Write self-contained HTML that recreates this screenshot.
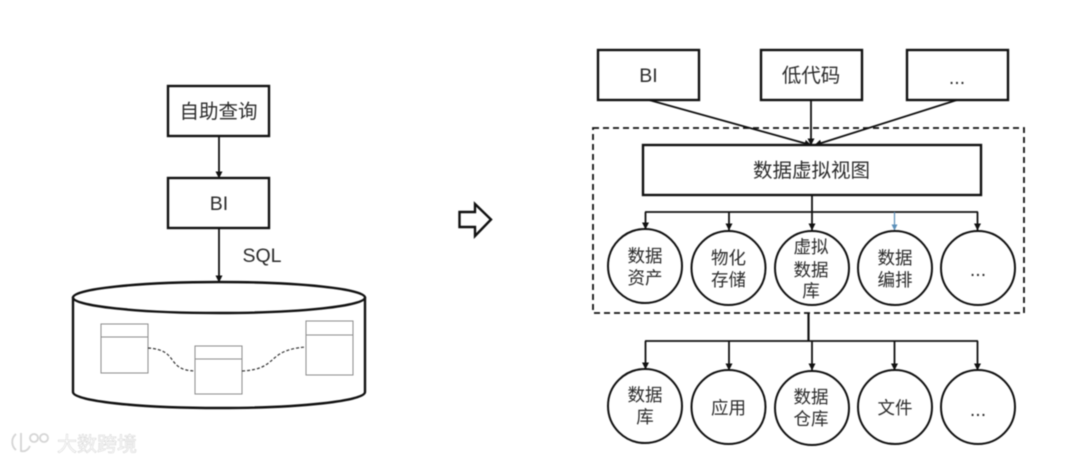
<!DOCTYPE html>
<html>
<head>
<meta charset="utf-8">
<style>
html,body{margin:0;padding:0;background:#fff;width:1080px;height:464px;overflow:hidden}
svg{display:block;filter:blur(.5px)}
text{font-family:"Liberation Sans","Noto Sans CJK SC",sans-serif;font-size:19.5px;fill:#2b2b2b;text-anchor:middle}
.s{font-size:17.5px}
.b{fill:#fff;stroke:#111;stroke-width:2.4}
.l{fill:none;stroke:#111;stroke-width:1.8}
.t{fill:#fff;stroke:#8c8c8c;stroke-width:1}
.d{fill:none;stroke:#333;stroke-width:1.2;stroke-dasharray:3 2}
.c{fill:#fff;stroke:#111;stroke-width:2}
.w{font-size:20px;fill:#fff;stroke:#d2d2d2;stroke-width:.5;text-anchor:start}
</style>
</head>
<body>
<svg width="1080" height="464" viewBox="0 0 1080 464" xmlns="http://www.w3.org/2000/svg">
<defs>
<marker id="a" markerWidth="7" markerHeight="7" refX="6.500" refY="3.500" orient="auto" markerUnits="userSpaceOnUse"><path d="M0,0L7,3.500L0,7Z" fill="#111"/></marker>
<marker id="ab" markerWidth="6" markerHeight="6" refX="5.500" refY="3" orient="auto" markerUnits="userSpaceOnUse"><path d="M0,0L6,3L0,6Z" fill="#5b8fb9"/></marker>
</defs>

<!-- left -->
<rect class="b" x="168" y="86" width="101" height="50"/>
<text x="218.500" y="118">自助查询</text>
<line class="l" x1="219" y1="136" x2="219" y2="178" marker-end="url(#a)"/>
<rect class="b" x="168" y="178" width="101" height="50"/>
<text x="219" y="210">BI</text>
<line class="l" x1="219" y1="228" x2="219" y2="282" marker-end="url(#a)"/>
<text x="262" y="262">SQL</text>

<path d="M73,297V392C73,401 138,408 219,408C300,408 365,401 365,392V297" fill="#fff" stroke="#111" stroke-width="2.400"/>
<ellipse cx="219" cy="297.500" rx="146" ry="15.500" fill="#fff" stroke="#111" stroke-width="2.400"/>

<rect class="t" x="101" y="324" width="47" height="49"/><line class="t" x1="101" y1="337" x2="148" y2="337"/>
<rect class="t" x="195" y="346" width="47" height="48"/><line class="t" x1="195" y1="359" x2="242" y2="359"/>
<rect class="t" x="306" y="321" width="47" height="54"/><line class="t" x1="306" y1="335" x2="353" y2="335"/>
<path class="d" d="M148,348C180,350 165,370 195,371"/>
<path class="d" d="M242,371C280,369 265,350 306,347"/>

<!-- arrow -->
<path d="M459.500,212H475V204L491,219.500L475,236V227H459.500Z" fill="#fff" stroke="#111" stroke-width="2.400"/>

<!-- right top -->
<rect class="b" x="598" y="50" width="101" height="50"/>
<text x="648.500" y="82">BI</text>
<rect class="b" x="761" y="50" width="101" height="50"/>
<text x="811" y="82">低代码</text>
<rect class="b" x="907" y="50" width="101" height="50"/>
<text x="957" y="84">...</text>

<rect x="593" y="128" width="431" height="185" fill="none" stroke="#111" stroke-width="1.800" stroke-dasharray="6 4"/>

<line class="l" x1="649" y1="100" x2="811" y2="145" marker-end="url(#a)"/>
<line class="l" x1="811" y1="100" x2="811" y2="145" marker-end="url(#a)"/>
<line class="l" x1="957" y1="100" x2="815" y2="145" marker-end="url(#a)"/>

<rect class="b" x="643" y="145" width="338" height="50"/>
<text x="811.500" y="177">数据虚拟视图</text>

<!-- middle connectors -->
<line class="l" x1="812" y1="195" x2="812" y2="212"/>
<line class="l" x1="645" y1="212" x2="978" y2="212"/>
<line class="l" x1="645.500" y1="212" x2="645.500" y2="229" marker-end="url(#a)"/>
<line class="l" x1="729" y1="212" x2="729" y2="230" marker-end="url(#a)"/>
<line class="l" x1="812" y1="212" x2="812" y2="230" marker-end="url(#a)"/>
<line x1="894.500" y1="212" x2="894.500" y2="230" stroke="#5b8fb9" stroke-width="1.200" marker-end="url(#ab)"/>
<line class="l" x1="977.500" y1="212" x2="977.500" y2="230" marker-end="url(#a)"/>

<!-- middle circles -->
<circle class="c" cx="645" cy="266" r="37"/>
<circle class="c" cx="728.500" cy="268" r="37"/>
<circle class="c" cx="812" cy="268" r="37"/>
<circle class="c" cx="895" cy="268" r="37"/>
<circle class="c" cx="978" cy="268" r="37"/>
<text class="s" x="645" y="262">数据</text><text class="s" x="645" y="284">资产</text>
<text class="s" x="728.500" y="264">物化</text><text class="s" x="728.500" y="286">存储</text>
<text class="s" x="811" y="253">虚拟</text><text class="s" x="811" y="276">数据</text><text class="s" x="811" y="297">库</text>
<text class="s" x="895" y="264">数据</text><text class="s" x="895" y="286">编排</text>
<text x="978" y="276">...</text>

<!-- bottom connectors -->
<line x1="808.500" y1="313" x2="808.500" y2="341" stroke="#111" stroke-width="2.200"/>
<line class="l" x1="645" y1="341" x2="978" y2="341"/>
<line class="l" x1="645.500" y1="341" x2="645.500" y2="369" marker-end="url(#a)"/>
<line class="l" x1="729" y1="341" x2="729" y2="370" marker-end="url(#a)"/>
<line class="l" x1="812" y1="341" x2="812" y2="370" marker-end="url(#a)"/>
<line class="l" x1="894.500" y1="341" x2="894.500" y2="370" marker-end="url(#a)"/>
<line class="l" x1="977.500" y1="341" x2="977.500" y2="370" marker-end="url(#a)"/>

<!-- bottom circles -->
<circle class="c" cx="645" cy="406" r="37"/>
<circle class="c" cx="728.500" cy="407" r="37"/>
<circle class="c" cx="812" cy="408" r="37"/>
<circle class="c" cx="895" cy="407" r="37"/>
<circle class="c" cx="978" cy="407" r="37"/>
<text class="s" x="645" y="401">数据</text><text class="s" x="645" y="423">库</text>
<text class="s" x="728.500" y="414">应用</text>
<text class="s" x="811" y="403">数据</text><text class="s" x="811" y="425">仓库</text>
<text class="s" x="895" y="414">文件</text>
<text x="978" y="416">...</text>

<!-- watermark -->
<g fill="none" stroke="#d4d4d4" stroke-width="1.800">
<path d="M16,434C11,438 11,446 16,450"/>
<path d="M21,433V451C25,452 28,450 30,446"/>
<circle cx="34" cy="438" r="4"/><circle cx="44" cy="438" r="4"/>
</g>
<text class="w" x="57" y="451">大数跨境</text>
</svg>
</body>
</html>
